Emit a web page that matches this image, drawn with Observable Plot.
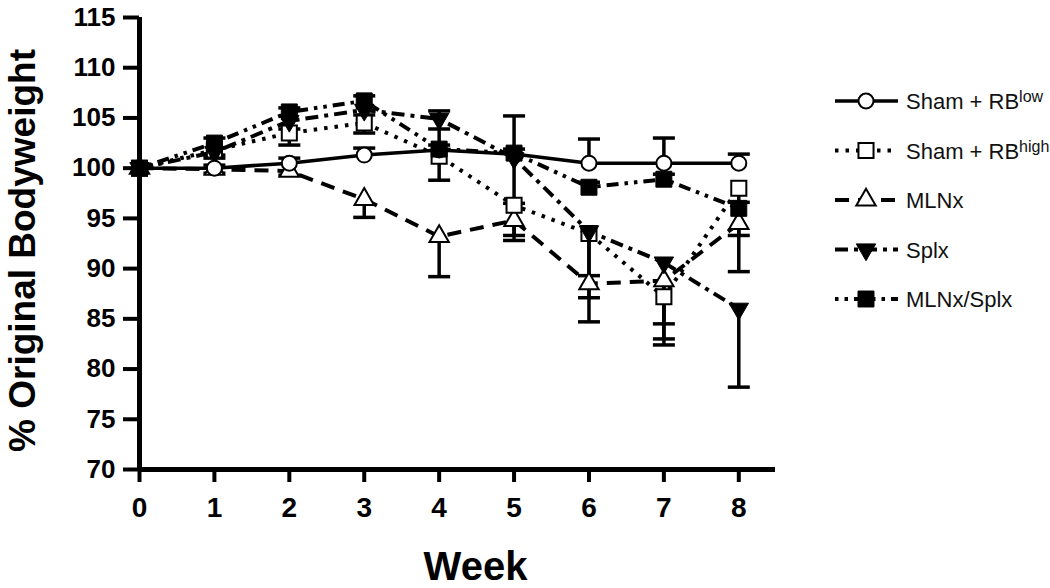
<!DOCTYPE html>
<html><head><meta charset="utf-8">
<script src="https://cdn.jsdelivr.net/npm/d3@7"></script>
<script src="https://cdn.jsdelivr.net/npm/@observablehq/plot@0.6"></script>
<style>
body{margin:0;background:#fff;}
#chart{position:relative;width:1050px;height:588px;}
</style>
</head><body><div id="chart"></div>
<script>
// ---- data ----
const weeks = [0, 1, 2, 3, 4, 5, 6, 7, 8];
const xTicks = [0, 1, 2, 3, 4, 5, 6, 7, 8];
const yTicks = [70, 75, 80, 85, 90, 95, 100, 105, 110, 115];
const seriesNames = ["Sham + RBlow", "Sham + RBhigh", "MLNx", "Splx", "MLNx/Splx"];
const shamLow      = [100, 100.0, 100.5, 101.3, 101.8, 101.4, 100.5, 100.5, 100.5];
const shamLowSem   = [0, 0.3, 0.5, 0.7, 0.5, 0.5, 2.4, 2.5, 0.9];
const shamHigh     = [100, 101.8, 103.5, 104.5, 101.2, 96.3, 93.5, 87.2, 98.0];
const shamHighSem  = [0, 0.5, 1.2, 1.0, 2.4, 3.0, 4.2, 4.2, 4.7];
const mlnx         = [100, 99.9, 99.7, 96.9, 93.2, 94.8, 88.5, 88.8, 94.5];
const mlnxSem      = [0, 0.4, 0.4, 1.8, 4.0, 2.0, 3.8, 6.4, 4.8];
const splx         = [100, 101.6, 104.7, 105.8, 104.9, 101.0, 93.7, 90.6, 86.0];
const splxSem      = [0, 0.6, 0.8, 0.5, 1.0, 4.5, 6.6, 6.1, 7.8];
const mlnxSplx     = [100, 102.5, 105.6, 106.7, 101.9, 101.5, 98.1, 98.9, 96.0];
const mlnxSplxSem  = [0, 0.5, 0.4, 0.5, 3.8, 3.7, 0.5, 0.5, 0.6];
const errDirection = [1, -1, -1, -1, 1]; // error bar drawn above (1) or below (-1)
const xLabel = "Week";
const yLabel = "% Original Bodyweight";

const values = [shamLow, shamHigh, mlnx, splx, mlnxSplx];
const sems = [shamLowSem, shamHighSem, mlnxSem, splxSem, mlnxSplxSem];
const rows = [];
seriesNames.forEach((s, i) => weeks.forEach((w, j) => rows.push({
  series: s, week: w, v: values[i][j], e: sems[i][j], dir: errDirection[i]
})));

// ---- symbols ----
const sqrt3 = Math.sqrt(3);
const triDown = {draw(ctx, size) {
  const y = -Math.sqrt(size / (sqrt3 * 3));
  ctx.moveTo(0, -y * 2); ctx.lineTo(-sqrt3 * y, y); ctx.lineTo(sqrt3 * y, y); ctx.closePath();
}};
const cap = {draw(ctx) { ctx.moveTo(-11, 0); ctx.lineTo(11, 0); }};

const styles = {
  "Sham + RBlow":  {dash: null,              width: 3.5, symbol: "circle",   r: 7.5, fill: "white", sw: 2},
  "Sham + RBhigh": {dash: "3.5,7",           width: 4,   symbol: "square",   r: 8.5, fill: "white", sw: 2},
  "MLNx":          {dash: "14,9",            width: 4,   symbol: "triangle", r: 7.2, fill: "white", sw: 2},
  "Splx":          {dash: "13,6,4,6",        width: 4,   symbol: triDown,    r: 7.2, fill: "black", sw: 1},
  "MLNx/Splx":     {dash: "3.5,6,3.5,6,12,6", width: 4,  symbol: "square",   r: 9,   fill: "black", sw: 1}
};
const drawOrder = ["MLNx", "Sham + RBhigh", "Splx", "Sham + RBlow", "MLNx/Splx"];

const font = "'Liberation Sans', Arial, Helvetica, sans-serif";
const lines = drawOrder.map(s => Plot.line(rows.filter(d => d.series === s), {
  x: "week", y: "v", stroke: "black", strokeWidth: styles[s].width,
  strokeDasharray: styles[s].dash, strokeLinecap: "butt", strokeLinejoin: "miter"
}));
const errRows = rows.filter(d => d.e > 0);
const bars = [
  Plot.ruleX(errRows, {x: "week", y1: "v", y2: d => d.v + d.dir * d.e, stroke: "black", strokeWidth: 3.5}),
  Plot.dot(errRows, {x: "week", y: d => d.v + d.dir * d.e, symbol: cap, stroke: "black", strokeWidth: 3.5, fill: "none"})
];
const markers = drawOrder.map(s => Plot.dot(rows.filter(d => d.series === s), {
  x: "week", y: "v", symbol: styles[s].symbol, r: styles[s].r,
  fill: styles[s].fill, stroke: "black", strokeWidth: styles[s].sw
}));

const plot = Plot.plot({
  width: 1050, height: 588,
  marginLeft: 139, marginRight: 275, marginTop: 17, marginBottom: 119,
  style: {fontFamily: font, fontWeight: "bold", color: "black", background: "white"},
  x: {domain: [0, 8.49]},
  y: {domain: [70, 115]},
  marks: [
    ...lines,
    ...bars,
    ...markers,
    Plot.ruleY([70], {stroke: "black", strokeWidth: 5}),
    Plot.ruleX([0], {stroke: "black", strokeWidth: 5}),
    Plot.axisY({ticks: yTicks, tickSize: 16, tickPadding: 8, fontSize: 26, strokeWidth: 4, label: null, tickFormat: d => String(d)}),
    Plot.axisX({ticks: xTicks, tickSize: 13, tickPadding: 15, fontSize: 28, strokeWidth: 4, label: null, tickFormat: d => String(d)}),
    Plot.text([yLabel], {frameAnchor: "left", textAnchor: "middle", lineAnchor: "middle", dx: -116, dy: 7, rotate: -90, fontSize: 37, fontWeight: "bold", fill: "black"}),
    Plot.text([xLabel], {frameAnchor: "bottom", textAnchor: "middle", dx: 18, dy: 110, lineAnchor: "bottom", fontSize: 40, fontWeight: "bold", fill: "black"})
  ]
});
document.getElementById("chart").appendChild(plot);

// ---- legend ----
const legendLabels = [
  ["Sham + RB", "low"], ["Sham + RB", "high"], ["MLNx", ""], ["Splx", ""], ["MLNx/Splx", ""]
];
const svg = d3.select(plot);
const lg = svg.append("g").attr("font-family", font).attr("text-anchor", "start");
seriesNames.forEach((s, i) => {
  const st = styles[s];
  const y = 101 + i * 49.5;
  lg.append("line").attr("x1", 835).attr("x2", 898).attr("y1", y).attr("y2", y)
    .attr("stroke", "black").attr("stroke-width", st.width)
    .attr("stroke-dasharray", st.dash).attr("stroke-linecap", "butt");
  const sym = typeof st.symbol === "string"
    ? {circle: d3.symbolCircle, square: d3.symbolSquare, triangle: d3.symbolTriangle}[st.symbol]
    : st.symbol;
  lg.append("path").attr("transform", `translate(866,${y})`)
    .attr("d", d3.symbol(sym, Math.PI * st.r * st.r)())
    .attr("fill", st.fill).attr("stroke", "black").attr("stroke-width", st.sw);
  const t = lg.append("text").attr("x", 906).attr("y", y + 8)
    .attr("text-anchor", "start")
    .attr("font-size", 22).attr("font-weight", "normal").attr("fill", "#111");
  t.append("tspan").text(legendLabels[i][0]);
  if (legendLabels[i][1]) t.append("tspan").attr("dy", -7).attr("font-size", 16).text(legendLabels[i][1]);
});
</script>
</body></html>
